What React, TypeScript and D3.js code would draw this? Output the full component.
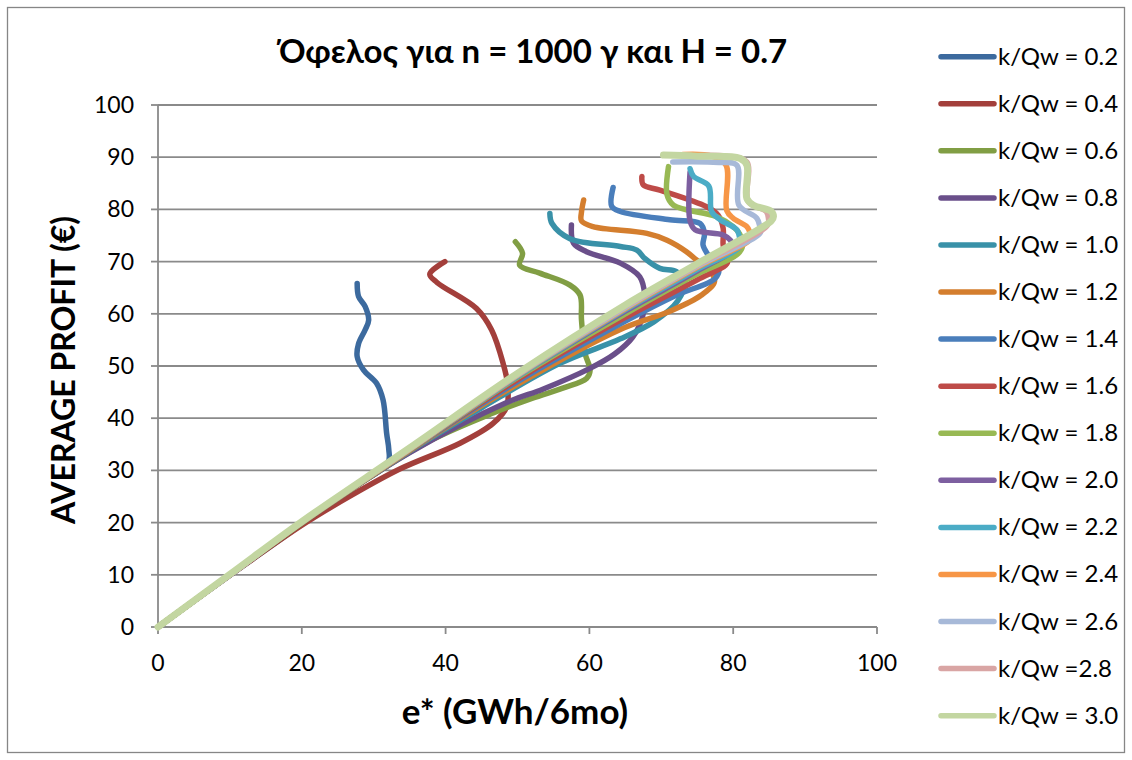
import React from "react";
import * as d3 from "d3";

type P = [number, number];

const seriesLabels = [
  "k/Qw = 0.2", "k/Qw = 0.4", "k/Qw = 0.6", "k/Qw = 0.8", "k/Qw = 1.0",
  "k/Qw = 1.2", "k/Qw = 1.4", "k/Qw = 1.6", "k/Qw = 1.8", "k/Qw = 2.0",
  "k/Qw = 2.2", "k/Qw = 2.4", "k/Qw = 2.6", "k/Qw =2.8", "k/Qw = 3.0",
];

const seriesColors = [
  "#3C6A9E", "#A33F3B", "#819E44", "#6A4F8A", "#3991A8",
  "#D47E2E", "#4A7EBB", "#BE4B48", "#98B954", "#7D5FA0",
  "#4BACC6", "#F79646", "#A7B9D8", "#D9A5A4", "#C3D6A1",
];

const s02: P[] = [[0,0],[10,9.9],[20,19.7],[27,26.6],[32,31.5],[32.1,34],[31.8,37.1],[31.3,43.5],[30.4,46.7],[28.6,49.2],[27.7,51.8],[27.9,54.3],[28.8,56.9],[29.3,58.8],[28.8,61.4],[27.9,63.3],[27.7,65.8]];
const s04: P[] = [[0,0],[10,9.9],[20,19.5],[27,25.3],[33.7,30.3],[42,35.2],[46.6,39],[48.5,42.2],[48.6,46.7],[48,50.5],[46.4,56.9],[44.3,61],[38.8,66],[37.8,67.6],[39.9,70]];
const s06: P[] = [[0,0],[10,10],[20,19.9],[30,29.2],[38,35.8],[46.6,41],[52,43.8],[56.4,45.8],[59.6,47.6],[60.1,49.2],[59.4,52.4],[58.9,58.8],[58.7,63.6],[57.3,65.5],[53.1,67.8],[50.3,69.3],[50.7,71.6],[49.7,73.8]];
const s08: P[] = [[0,0],[10,10],[20,20],[35,33.4],[48.5,43],[53.6,45.6],[60,49.5],[63.5,52.3],[66,55.5],[67.4,59.5],[67.7,63.5],[67,67.1],[64.3,69.7],[59.6,71.9],[57.8,73.5],[57.5,77]];
const s10: P[] = [[0,0],[10,10],[20,20],[35,33.7],[45,42],[55.9,50.5],[64.3,55.2],[69,58.5],[72.3,62.5],[73.2,66],[72.1,68.1],[69.8,68.7],[67.7,70.6],[66.6,72.2],[64.3,72.9],[57.3,74.4],[54.8,77.3],[54.5,79.2]];
const s12: P[] = [[0,0],[10,10],[20,20],[35,33.8],[50,46.5],[64.3,57],[71.2,60.5],[75.5,63.5],[77.4,66.2],[76.6,68.6],[74.9,70.3],[73.5,71.9],[70.8,74.1],[68,75.4],[60.5,76.7],[58.9,77.8],[58.9,79.5],[59.2,81.8]];
const s14: P[] = [[0,0],[10,10],[20,20],[35,33.9],[50,47],[65,58.6],[72,63.5],[77.5,66.8],[78,68.7],[76.4,71.5],[75.8,73.2],[76,75.4],[75.4,77.3],[71.2,78],[64.3,79.6],[63.1,80.6],[63.3,84.2]];
const s16: P[] = [[0,0],[10,10],[20,20],[35,33.9],[50,47.4],[65,59.3],[75,66.5],[79.2,69.8],[78.9,71.5],[78.6,73.2],[78.6,76.4],[77.9,78.9],[76.3,80.5],[69.8,83.7],[67.5,84.7],[67.3,86.3]];
const s18: P[] = [[0,0],[10,10],[20,20],[35,33.9],[50,47.8],[65,60],[75,67.6],[80.5,71.3],[81.3,73],[80.9,75.3],[80,76.7],[77.7,78.6],[71.7,80.8],[70.8,82.8],[71,88.2]];
const s20: P[] = [[0,0],[10,10],[20,20],[35,34],[50,48],[65,60.5],[75,68.2],[80,72.5],[79.6,74.1],[78.6,75.1],[74.7,76.1],[74,77.8],[74,87.2]];
const s22: P[] = [[0,0],[10,10],[20,20],[35,34],[50,48],[65,60.8],[75,68.5],[81,73],[80.9,74.5],[80.5,76.1],[78.2,78],[77,79.6],[76.6,84.5],[74.5,86.3],[74,87.8]];
const s24: P[] = [[0,0],[10,10],[20,20],[35,34],[50,48.2],[65,61],[75,68.9],[82.5,74.5],[82.3,75.7],[81.9,76.7],[80,78.3],[79.1,79.8],[79,88.5],[77,90.2],[73,90.5]];
const s26: P[] = [[0,0],[10,10],[20,20.1],[35,34.1],[50,48.3],[65,61.2],[75,69.1],[83.8,75.6],[83.7,76.7],[83.3,78.3],[80.8,80.8],[80.5,88.5],[78,89],[71.6,89.1]];
const s28: P[] = [[0,0],[10,10],[20,20.1],[35,34.1],[50,48.4],[65,61.4],[75,69.3],[84.8,77],[84.9,78.3],[84.6,79.6],[82.1,81.5],[81.9,89.1],[79,90.2],[75,90.3]];
const s30: P[] = [[0,0],[10,10.1],[20,20.2],[35,34.3],[50,48.6],[65,61.7],[75,69.6],[85.3,77.8],[85.6,78.6],[85.3,79.6],[82.8,80.8],[81.9,82.1],[81.9,88.5],[80.9,89.8],[75,90.2],[70.3,90.4]];

const seriesData: P[][] = [s02, s04, s06, s08, s10, s12, s14, s16, s18, s20, s22, s24, s26, s28, s30];

const xTicks = [0, 20, 40, 60, 80, 100];
const yTicks = [0, 10, 20, 30, 40, 50, 60, 70, 80, 90, 100];

const W = 1132;
const H = 760;
const font = "Lato, 'Open Sans', sans-serif";
const gridColor = "#8A8A8A";

export default function App() {
  const x = d3.scaleLinear().domain([0, 100]).range([158, 877]);
  const y = d3.scaleLinear().domain([0, 100]).range([627, 105]);
  const line = d3
    .line<P>()
    .x((d) => x(d[0]))
    .y((d) => y(d[1]))
    .curve(d3.curveCatmullRom.alpha(0.5));

  const legendY = (i: number) => 56.7 + 47.07 * i;

  return (
    <svg
      width={W}
      height={H}
      style={{ position: "absolute", left: 0, top: 0, background: "#fff" }}
    >
      <rect x={0} y={0} width={W} height={H} fill="#fff" />
      <rect x={7.5} y={7.5} width={W - 15} height={H - 15} fill="none" stroke="#868686" strokeWidth={1.3} />

      {/* gridlines */}
      {yTicks.filter((t) => t > 0).map((t) => (
        <line key={"g" + t} x1={x(0)} x2={x(100)} y1={y(t)} y2={y(t)} stroke={gridColor} strokeWidth={1.8} />
      ))}
      {/* axes */}
      <line x1={x(0)} x2={x(0)} y1={y(0)} y2={y(100)} stroke={gridColor} strokeWidth={1.8} />
      <line x1={x(0)} x2={x(100)} y1={y(0)} y2={y(0)} stroke={gridColor} strokeWidth={1.8} />
      {yTicks.map((t) => (
        <line key={"yt" + t} x1={x(0) - 7} x2={x(0)} y1={y(t)} y2={y(t)} stroke={gridColor} strokeWidth={1.8} />
      ))}
      {xTicks.map((t) => (
        <line key={"xt" + t} x1={x(t)} x2={x(t)} y1={y(0)} y2={y(0) + 7} stroke={gridColor} strokeWidth={1.8} />
      ))}

      {/* tick labels */}
      {yTicks.map((t) => (
        <text key={"yl" + t} x={134} y={y(t) + 8} textAnchor="end" fontFamily={font} fontSize={23} fill="#000">
          {t}
        </text>
      ))}
      {xTicks.map((t) => (
        <text key={"xl" + t} x={x(t)} y={671} textAnchor="middle" fontFamily={font} fontSize={23} fill="#000">
          {t}
        </text>
      ))}

      {/* series */}
      {seriesData.map((d, i) => (
        <path
          key={"s" + i}
          d={line(d) || ""}
          fill="none"
          stroke={seriesColors[i]}
          strokeWidth={i === seriesData.length - 1 ? 7 : 5.5}
          strokeLinecap="round"
          strokeLinejoin="round"
        />
      ))}

      {/* titles */}
      <text x={533} y={63} textAnchor="middle" fontFamily={font} fontWeight="bold" fontSize={33} fill="#000">
        Όφελος για n = 1000 γ και H = 0.7
      </text>
      <text x={515} y={724} textAnchor="middle" fontFamily={font} fontWeight="bold" fontSize={35} fill="#000">
        e* (GWh/6mo)
      </text>
      <text
        transform={`translate(75, 370) rotate(-90)`}
        textAnchor="middle"
        fontFamily={font}
        fontWeight="bold"
        fontSize={32}
        fill="#000"
      >
        AVERAGE PROFIT (€)
      </text>

      {/* legend */}
      {seriesLabels.map((lab, i) => (
        <g key={"lg" + i}>
          <line x1={941} x2={994} y1={legendY(i)} y2={legendY(i)} stroke={seriesColors[i]} strokeWidth={5.5} strokeLinecap="round" />
          <text x={998} y={legendY(i) + 8} fontFamily={font} fontSize={24} fill="#000">
            {lab}
          </text>
        </g>
      ))}
    </svg>
  );
}
